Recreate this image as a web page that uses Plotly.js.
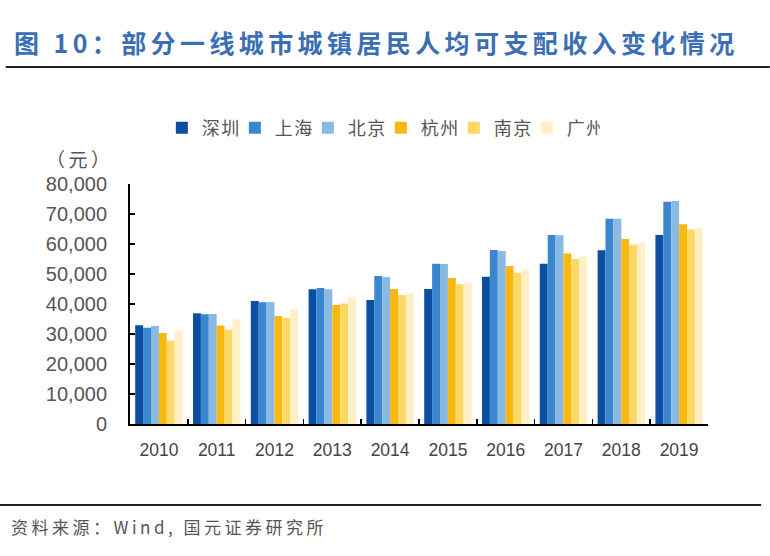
<!DOCTYPE html>
<html>
<head>
<meta charset="utf-8">
<script src="https://cdn.plot.ly/plotly-3.0.1.min.js"></script>
<style>
  body { margin: 0; background: #fff; }
  #myChart { width: 770px; height: 556px; }
  .legendtext { letter-spacing: 1.5px; }
</style>
</head>
<body>
<div id="myChart"></div>
<script>
// years on the x axis
var years = ["2010", "2011", "2012", "2013", "2014", "2015", "2016", "2017", "2018", "2019"];
// 城镇居民人均可支配收入 (元)
var shenzhen = [32900, 36900, 41000, 44900, 41300, 45000, 49100, 53400, 57900, 63000];
var shanghai = [32100, 36600, 40600, 45300, 49300, 53400, 58000, 63000, 68400, 74100];
var beijing = [32700, 36700, 40700, 44900, 49000, 53300, 57700, 62900, 68400, 74300];
var hangzhou = [30300, 32800, 36000, 39700, 45000, 48700, 52700, 56800, 61700, 66600];
var nanjing = [27800, 31400, 35300, 40200, 43000, 46600, 50400, 55000, 59800, 64800];
var guangzhou = [31000, 34800, 38300, 42400, 43300, 47100, 51300, 55800, 60400, 65400];

var cityNames = ["深圳", "上海", "北京", "杭州", "南京", "广州"];
var cityColors = ["#0b4ea2", "#3a87cf", "#8ab9e2", "#f8b810", "#fdd865", "#fff0c8"];

var cjk = '"Noto Sans CJK SC", "Liberation Sans", sans-serif';
var latin = '"Liberation Sans", Arial, sans-serif';

// spaced out text, the report uses wide character spacing
function spaced(txt, px) {
  return '<span style="letter-spacing:' + px + 'px">' + txt + "</span>";
}

function makeTraces() {
  var series = [shenzhen, shanghai, beijing, hangzhou, nanjing, guangzhou];
  return series.map(function (vals, i) {
    return {
      type: "bar",
      x: years,
      y: vals,
      name: cityNames[i],
      marker: { color: cityColors[i] },
      hoverinfo: "y+name",
    };
  });
}

var layout = {
  width: 770,
  height: 556,
  paper_bgcolor: "#fff",
  plot_bgcolor: "#fff",
  margin: { l: 130, r: 62, t: 184, b: 132 },
  barmode: "group",
  bargap: 0.18,
  bargroupgap: 0,
  showlegend: true,
  legend: {
    orientation: "h",
    x: 0.434,
    xanchor: "center",
    y: 1.233,
    yanchor: "middle",
    font: { family: cjk, size: 18, color: "#555" },
    itemwidth: 30,
    entrywidth: 28,
  },
  xaxis: {
    type: "category",
    showline: true,
    linecolor: "#000",
    linewidth: 2,
    ticks: "inside",
    tickson: "boundaries",
    ticklen: 5,
    tickcolor: "#000",
    tickwidth: 1.5,
    ticklabelstandoff: 9,
    tickfont: { family: latin, size: 17.5, color: "#444" },
    showgrid: false,
    zeroline: false,
  },
  yaxis: {
    range: [0, 80000],
    dtick: 10000,
    tickformat: ",",
    showline: true,
    linecolor: "#000",
    linewidth: 2,
    ticks: "inside",
    ticklen: 5,
    tickcolor: "#000",
    tickwidth: 1.5,
    ticklabelstandoff: 17,
    tickfont: { family: latin, size: 20, color: "#555" },
    showgrid: false,
    zeroline: false,
  },
  annotations: [
    {
      text: "<b>" + spaced("图 10：部分一线城市城镇居民人均可支配收入变化情况", 4.4) + "</b>",
      xref: "paper", yref: "paper",
      x: -0.204, y: 1.592, xanchor: "left", yanchor: "middle",
      showarrow: false,
      font: { family: cjk, size: 25, color: "#3a6fb5" },
    },
    {
      text: spaced("（元）", 3.5),
      xref: "paper", yref: "paper",
      x: -0.148, y: 1.108, xanchor: "left", yanchor: "middle",
      showarrow: false,
      font: { family: cjk, size: 19, color: "#555" },
    },
    {
      text: spaced("资料来源：Wind, 国元证券研究所", 3.5),
      xref: "paper", yref: "paper",
      x: -0.21, y: -0.429, xanchor: "left", yanchor: "middle",
      showarrow: false,
      font: { family: cjk, size: 17, color: "#555" },
    },
  ],
  shapes: [
    {
      type: "line", xref: "paper", yref: "paper",
      x0: -0.215, x1: 1.107, y0: 1.4875, y1: 1.4875,
      line: { color: "#222", width: 2 },
    },
    {
      type: "line", xref: "paper", yref: "paper",
      x0: -0.225, x1: 1.092, y0: -0.3375, y1: -0.3375,
      line: { color: "#222", width: 2 },
    },
  ],
};

const config = { displayModeBar: false, staticPlot: true };

Plotly.newPlot("myChart", makeTraces(), layout, config);
</script>
</body>
</html>
